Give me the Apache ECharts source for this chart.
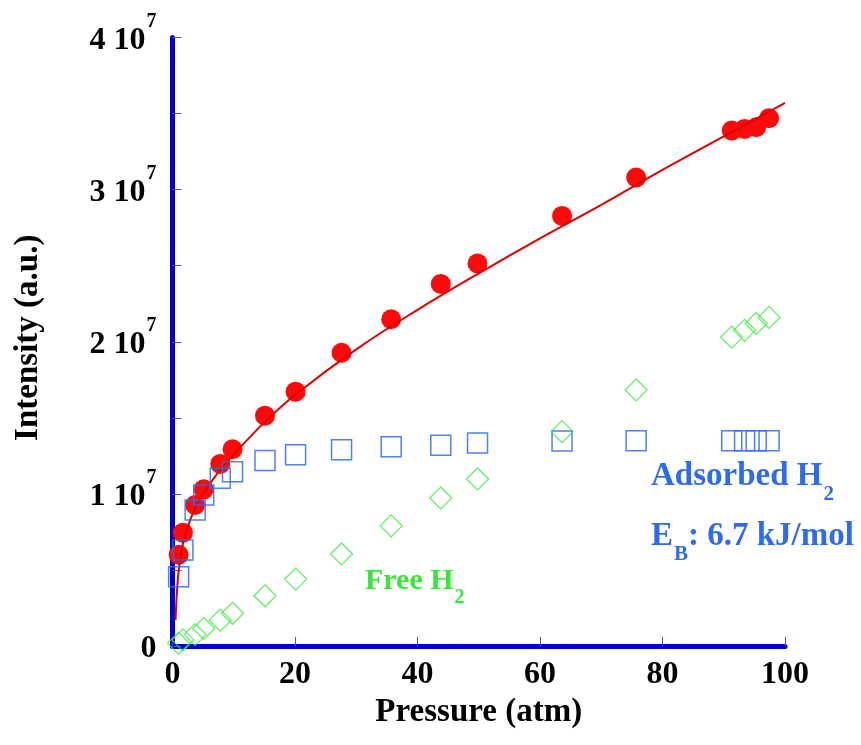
<!DOCTYPE html>
<html>
<head>
<meta charset="utf-8">
<script src="https://cdn.jsdelivr.net/npm/echarts@6/dist/echarts.min.js"></script>
<style>
  html, body { margin: 0; padding: 0; background: #fff; }
  #chart { width: 861px; height: 745px; }
</style>
</head>
<body>
<div id="chart"></div>
<script>
// Pressure (atm) of each measurement
const pressure = [1.0, 1.7, 3.7, 5.1, 7.8, 9.8, 15.1, 20.1, 27.6, 35.7, 43.8, 49.8, 63.6, 75.7, 91.3, 93.4, 95.3, 97.4];
// Total signal intensity (a.u.)
const totalH2 = [6.0e6, 7.45e6, 9.27e6, 10.3e6, 11.97e6, 12.93e6, 15.14e6, 16.72e6, 19.28e6, 21.48e6, 23.8e6, 25.15e6, 28.27e6, 30.8e6, 33.88e6, 33.99e6, 34.1e6, 34.7e6];
// Adsorbed H2 component
const adsorbedH2 = [4.56e6, 6.31e6, 8.94e6, 9.93e6, 11.03e6, 11.46e6, 12.2e6, 12.57e6, 12.9e6, 13.1e6, 13.2e6, 13.35e6, 13.47e6, 13.5e6, 13.5e6, 13.5e6, 13.5e6, 13.5e6];
// Free (gas-phase) H2 component
const freeH2 = [0.18e6, 0.4e6, 0.75e6, 1.15e6, 1.7e6, 2.15e6, 3.3e6, 4.4e6, 6.05e6, 7.9e6, 9.73e6, 10.98e6, 14.09e6, 16.83e6, 20.3e6, 20.75e6, 21.2e6, 21.6e6];
// Fitted curve through the total intensity
const fitPressure = [0.5, 0.7, 1, 1.5, 2, 3, 4, 5, 6, 8, 10, 15, 20, 30, 40, 50, 60, 70, 80, 90, 100];
const fitIntensity = [1.7e6, 3.4e6, 4.9e6, 6.3e6, 7.2e6, 8.4e6, 9.3e6, 10.0e6, 10.6e6, 11.7e6, 12.6e6, 14.7e6, 16.5e6, 19.5e6, 22.1e6, 24.5e6, 26.8e6, 29.0e6, 31.3e6, 33.5e6, 35.7e6];
// Axis ranges and tick steps
const xTicks = { min: 0, max: 100, step: 20 };
const yTicks = { min: 0, max: 4e7, step: 5e6, labelStep: 1e7 };

const pairs = (xs, ys) => xs.map((x, i) => [x, ys[i]]);

const serif = '"Liberation Serif", "Times New Roman", serif';
const axisBlue = '#0000cc';
const tickBlue = '#4a4af0';
const squareBlue = '#2d6cf0';
const green = '#38e838';

const chart = echarts.init(document.getElementById('chart'), null, { renderer: 'canvas' });

// text with a lowered subscript part, both parts hung from the top of the line
function subText(main, sub, tail, size, subSize, drop, color) {
  const base = { fontFamily: serif, fontWeight: 'bold', fill: color, verticalAlign: 'top' };
  return {
    text: '{m|' + main + '}{sub|' + sub + '}' + (tail ? '{m|' + tail + '}' : ''),
    rich: {
      m: Object.assign({ fontSize: size, lineHeight: size }, base),
      sub: Object.assign({ fontSize: subSize, lineHeight: subSize, padding: [drop, 0, 0, 1] }, base)
    }
  };
}

chart.setOption({
  animation: false,
  backgroundColor: '#ffffff',
  grid: {
    left: 172.5, right: 76, top: 37.5, bottom: 99,
    containLabel: false, outerBoundsMode: 'none'
  },
  xAxis: {
    type: 'value',
    min: xTicks.min, max: xTicks.max, interval: xTicks.step,
    name: 'Pressure (atm)',
    nameLocation: 'middle',
    nameGap: 43,
    nameTextStyle: { fontFamily: serif, fontWeight: 'bold', fontSize: 33, color: '#000' },
    axisLine: { show: true, onZero: false, lineStyle: { color: axisBlue, width: 5 } },
    axisTick: { show: true, inside: true, length: 9, lineStyle: { color: tickBlue, width: 1 } },
    axisLabel: { margin: 13, fontFamily: serif, fontWeight: 'bold', fontSize: 32, color: '#000' },
    splitLine: { show: false }
  },
  yAxis: {
    type: 'value',
    min: yTicks.min, max: yTicks.max, interval: yTicks.step,
    name: 'Intensity (a.u.)',
    nameLocation: 'middle',
    nameRotate: 90,
    nameGap: 128,
    nameTextStyle: { fontFamily: serif, fontWeight: 'bold', fontSize: 33, color: '#000', padding: [0, 0, 0, 8] },
    axisLine: { show: true, onZero: false, lineStyle: { color: axisBlue, width: 5 } },
    axisTick: { show: true, inside: true, length: 9, lineStyle: { color: tickBlue, width: 1 } },
    axisLabel: {
      margin: 16,
      padding: [22, 0, 0, 0],
      formatter: function (v) {
        if (v === 0) return '{n|0}';
        if (v % yTicks.labelStep !== 0) return '';
        return '{n|' + (v / yTicks.labelStep) + ' 10}{s|7}';
      },
      rich: {
        n: { fontFamily: serif, fontWeight: 'bold', fontSize: 32, color: '#000', lineHeight: 34, verticalAlign: 'bottom', padding: [0, 0, 9, 0] },
        s: { fontFamily: serif, fontWeight: 'bold', fontSize: 20, color: '#000', lineHeight: 20, verticalAlign: 'bottom', padding: [0, 0, 34, 1] }
      }
    },
    splitLine: { show: false }
  },
  series: [
    {
      name: 'Total',
      type: 'scatter',
      data: pairs(pressure, totalH2),
      symbol: 'circle',
      symbolSize: 20,
      itemStyle: { color: '#ff0a0a', opacity: 1 },
      z: 2
    },
    {
      name: 'Fit',
      type: 'line',
      data: pairs(fitPressure, fitIntensity),
      smooth: 0.4,
      showSymbol: false,
      symbol: 'none',
      lineStyle: { color: '#dd0000', width: 2 },
      z: 3
    },
    {
      name: 'Adsorbed H2',
      type: 'scatter',
      data: pairs(pressure, adsorbedH2),
      symbol: 'rect',
      symbolSize: 20,
      itemStyle: { color: 'rgba(0,0,0,0)', borderColor: squareBlue, borderWidth: 1.5, opacity: 0.85 },
      z: 4
    },
    {
      name: 'Free H2',
      type: 'scatter',
      data: pairs(pressure, freeH2),
      symbol: 'diamond',
      symbolSize: 22,
      itemStyle: { color: 'rgba(0,0,0,0)', borderColor: green, borderWidth: 1.2 },
      z: 5
    }
  ],
  graphic: [
    { type: 'text', left: 365, top: 566, z: 10, style: subText('Free H', '2', '', 30, 20, 22, green) },
    { type: 'text', left: 651, top: 460, z: 10, style: subText('Adsorbed H', '2', '', 33, 21, 24, squareBlue) },
    { type: 'text', left: 651, top: 520, z: 10, style: subText('E', 'B', ': 6.7 kJ/mol', 33, 21, 24, squareBlue) }
  ]
});
</script>
</body>
</html>
